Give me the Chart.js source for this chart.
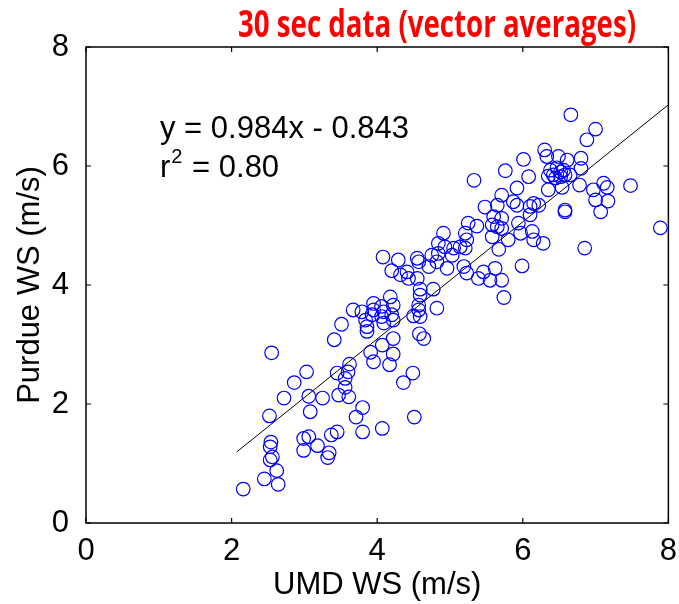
<!DOCTYPE html>
<html>
<head>
<meta charset="utf-8">
<script src="https://cdn.jsdelivr.net/npm/chart.js@4.4.1/dist/chart.umd.min.js"></script>
<style>
  html, body { margin: 0; padding: 0; background: #fff; }
</style>
</head>
<body>
<canvas id="scatter" width="679" height="604"></canvas>
<script>
// 30 sec data, UMD vs Purdue wind speed (m/s)
const umdWS = [
  2.16, 2.45, 2.64, 2.62, 2.53, 2.56, 2.54, 2.53, 2.52, 2.55,
  2.72, 2.86, 2.99, 3.06, 2.99, 3.18, 3.03, 3.06, 3.08, 3.25,
  3.37, 3.45, 3.34, 3.32, 3.41, 3.45, 3.47, 3.56, 3.56, 3.60,
  3.62, 3.61, 3.71, 3.80, 3.80, 4.07, 4.51, 4.36, 4.49, 4.17,
  4.22, 3.95, 3.91, 4.07, 4.22, 3.86, 4.58, 4.64, 3.51, 3.67,
  3.79, 3.84, 3.86, 3.95, 3.95, 3.93, 4.06, 4.09, 4.06, 4.09,
  4.18, 4.22, 4.20, 4.22, 4.57, 4.57, 4.82, 4.59, 4.50, 4.59,
  4.59, 4.77, 4.08, 4.29, 4.20, 4.32, 4.41, 4.43, 4.55, 4.55,
  4.57, 4.71, 4.82, 4.75, 4.84, 4.84, 4.91, 4.93, 5.05, 5.14,
  5.03, 4.96, 5.19, 5.23, 5.21, 5.23, 5.21, 5.25, 5.37, 5.39,
  5.46, 5.55, 5.62, 5.71, 5.74, 5.99, 5.58, 5.67, 5.80, 5.58,
  5.65, 5.71, 5.60, 5.48, 5.65, 5.87, 5.92, 6.15, 6.22, 6.10,
  5.94, 5.97, 6.13, 6.15, 6.28, 5.33, 5.76, 5.71, 6.66, 7.00,
  6.88, 6.30, 6.33, 6.49, 6.61, 6.80, 6.80, 6.01, 6.08, 6.38,
  6.42, 6.47, 6.52, 6.56, 6.58, 6.45, 6.35, 6.52, 6.65, 6.78,
  6.35, 6.54, 6.97, 7.00, 7.11, 7.16, 7.17, 7.07, 7.48, 6.58,
  6.58, 5.92, 6.10, 5.71, 7.89, 6.85
];
const purdueWS = [
  0.57, 0.74, 0.65, 0.88, 1.06, 1.11, 1.36, 1.28, 1.80, 2.86,
  2.10, 2.36, 1.42, 1.45, 1.22, 1.30, 2.54, 2.13, 1.87, 2.10,
  1.48, 1.53, 1.18, 1.10, 3.08, 2.52, 2.15, 2.43, 2.28, 2.54,
  2.67, 2.12, 1.78, 1.94, 1.53, 1.59, 1.78, 2.36, 2.52, 2.66,
  2.84, 2.71, 2.87, 2.99, 3.10, 3.22, 3.18, 3.10, 3.34, 3.58,
  3.55, 3.41, 3.30, 3.69, 3.58, 3.50, 3.64, 3.55, 3.47, 3.36,
  3.80, 3.66, 3.50, 3.41, 3.66, 3.58, 3.61, 3.47, 3.48, 3.93,
  3.83, 3.93, 4.47, 4.42, 4.24, 4.17, 4.22, 4.11, 4.11, 4.45,
  4.39, 4.31, 4.39, 4.50, 4.53, 4.70, 4.87, 4.64, 4.62, 4.64,
  4.50, 4.28, 4.31, 4.20, 4.87, 4.76, 4.62, 5.04, 4.99, 4.11,
  4.22, 4.08, 4.28, 4.08, 3.79, 4.32, 4.81, 4.60, 4.76, 5.01,
  4.98, 4.95, 5.15, 5.31, 5.34, 5.40, 5.34, 5.37, 5.34, 5.18,
  5.04, 4.87, 4.90, 4.76, 4.70, 5.76, 5.92, 5.51, 6.86, 6.62,
  6.44, 6.27, 6.16, 6.16, 6.10, 6.13, 5.96, 6.11, 5.82, 5.93,
  5.85, 5.97, 5.90, 5.93, 5.85, 5.80, 5.83, 5.82, 5.85, 5.68,
  5.60, 5.64, 5.60, 5.43, 5.71, 5.64, 5.41, 5.23, 5.67, 5.26,
  5.23, 5.63, 5.32, 5.12, 4.96, 4.62
];
const axisTicks = [0, 2, 4, 6, 8];

// regression fit shown on the plot
const fitSlope = 0.984;
const fitIntercept = -0.843;
const fitRange = [2.07, 8];
const fitText = "y = 0.984x - 0.843";
const r2Text = "0.80";

const labelFont = "'Liberation Sans', Arial, sans-serif";

const scatterPoints = umdWS.map((x, i) => ({ x: x, y: purdueWS[i] }));
const fitPoints = fitRange.map((x) => ({ x: x, y: fitSlope * x + fitIntercept }));

// matlab style box with inward ticks, plus title and equation text
const matlabFrame = {
  id: "matlabFrame",
  afterDraw(chart) {
    const { ctx, chartArea } = chart;
    const xs = chart.scales.x;
    const ys = chart.scales.y;
    const { left, right, top, bottom } = chartArea;
    ctx.save();
    ctx.strokeStyle = "#000";
    ctx.lineWidth = 1.5;
    ctx.strokeRect(left, top, right - left, bottom - top);
    ctx.lineWidth = 1.2;
    ctx.beginPath();
    axisTicks.forEach((v) => {
      const px = xs.getPixelForValue(v);
      ctx.moveTo(px, bottom);
      ctx.lineTo(px, bottom - 5);
      ctx.moveTo(px, top);
      ctx.lineTo(px, top + 5);
      const py = ys.getPixelForValue(v);
      ctx.moveTo(left, py);
      ctx.lineTo(left + 5, py);
      ctx.moveTo(right, py);
      ctx.lineTo(right - 5, py);
    });
    ctx.stroke();

    // title, squeezed sideways to look like a condensed face
    const title = "30 sec data (vector averages)";
    ctx.fillStyle = "#ff0000";
    ctx.font = "bold 38px 'Open Sans', sans-serif";
    ctx.textAlign = "center";
    ctx.textBaseline = "alphabetic";
    const tw = ctx.measureText(title).width;
    const squeeze = 398 / tw;
    ctx.save();
    ctx.translate(437, 37);
    ctx.scale(squeeze, 1);
    ctx.fillText(title, 0, 0);
    ctx.restore();

    // fit equation
    ctx.fillStyle = "#000";
    ctx.textAlign = "left";
    ctx.font = "31px " + labelFont;
    ctx.fillText(fitText, 160, 138);
    ctx.fillText("r", 160, 177);
    const rw = ctx.measureText("r").width;
    ctx.font = "20px " + labelFont;
    ctx.fillText("2", 160 + rw + 1, 163);
    const sw = ctx.measureText("2").width;
    ctx.font = "31px " + labelFont;
    ctx.fillText(" = " + r2Text, 160 + rw + sw + 2, 177);
    ctx.restore();
  },
};

const scatterCtx = document.getElementById("scatter");
window.myScatter = new Chart(scatterCtx, {
  type: "scatter",
  data: {
    datasets: [
      {
        label: "30 sec data",
        data: scatterPoints,
        pointStyle: "circle",
        pointRadius: 6.8,
        pointBorderWidth: 1.2,
        borderColor: "#0000ff",
        backgroundColor: "rgba(0,0,0,0)",
      },
      {
        type: "line",
        label: "fit",
        data: fitPoints,
        borderColor: "#000",
        borderWidth: 1,
        pointRadius: 0,
        fill: false,
      },
    ],
  },
  options: {
    responsive: false,
    animation: false,
    layout: { padding: { top: 47, right: 1, left: 0, bottom: 0 } },
    plugins: {
      legend: { display: false },
      tooltip: { enabled: false },
    },
    scales: {
      x: {
        type: "linear",
        min: 0,
        max: 8,
        afterFit: (scale) => { scale.height = 81; },
        grid: { display: false },
        border: { display: false },
        ticks: {
          stepSize: 2,
          padding: 2,
          color: "#000",
          font: { family: labelFont, size: 31 },
        },
        title: {
          display: true,
          text: "UMD WS (m/s)",
          color: "#000",
          padding: { top: 0, bottom: 0 },
          font: { family: labelFont, size: 31 },
        },
      },
      y: {
        type: "linear",
        min: 0,
        max: 8,
        afterFit: (scale) => { scale.width = 86; },
        grid: { display: false },
        border: { display: false },
        ticks: {
          stepSize: 2,
          padding: 9,
          color: "#000",
          font: { family: labelFont, size: 31 },
        },
        title: {
          display: true,
          text: "Purdue WS (m/s)",
          color: "#000",
          padding: { top: 12, bottom: 0 },
          font: { family: labelFont, size: 31 },
        },
      },
    },
  },
  plugins: [matlabFrame],
});
</script>
</body>
</html>
